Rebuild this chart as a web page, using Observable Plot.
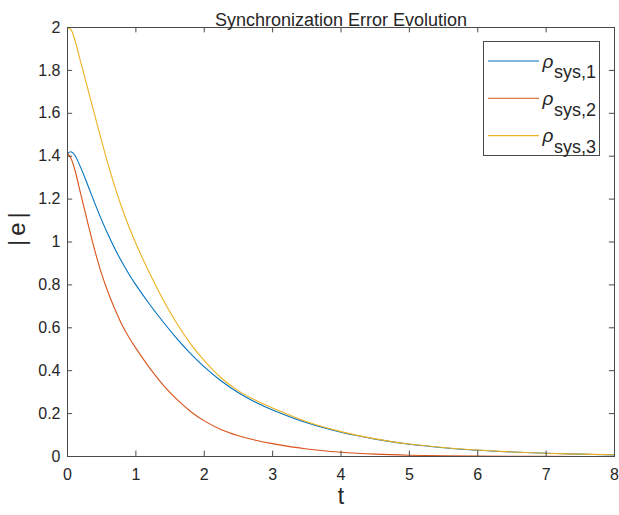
<!DOCTYPE html>
<html>
<head>
<meta charset="utf-8">
<script src="https://cdn.jsdelivr.net/npm/d3@7"></script>
<script src="https://cdn.jsdelivr.net/npm/@observablehq/plot@0.6"></script>
<style>
  html, body { margin: 0; padding: 0; background: #ffffff; }
  svg { display: block; }
</style>
</head>
<body>
<div id="chart"></div>
<script>
// ---- data ----
const tValues = [0, 0.05, 0.1, 0.2, 0.3, 0.4, 0.5, 0.6, 0.7, 0.8, 0.9, 1.0, 1.2, 1.4, 1.6, 1.8, 2.0, 2.25, 2.5, 2.75, 3.0, 3.5, 4, 4.5, 5, 5.5, 6, 6.5, 7, 7.5, 8];
const rhoSys1 = [1.414, 1.421, 1.408, 1.342, 1.262, 1.18, 1.102, 1.03, 0.964, 0.904, 0.85, 0.8, 0.71, 0.627, 0.55, 0.48, 0.418, 0.352, 0.297, 0.253, 0.217, 0.157, 0.113, 0.081, 0.057, 0.041, 0.029, 0.021, 0.015, 0.011, 0.0075];
const rhoSys2 = [1.414, 1.39, 1.345, 1.215, 1.085, 0.96, 0.85, 0.76, 0.682, 0.612, 0.555, 0.505, 0.413, 0.333, 0.266, 0.21, 0.166, 0.125, 0.097, 0.076, 0.06, 0.035, 0.02, 0.011, 0.006, 0.0035, 0.002, 0.001, 0.0006, 0.0003, 0.0002];
const rhoSys3 = [2.0, 1.99, 1.95, 1.83, 1.71, 1.59, 1.47, 1.355, 1.25, 1.155, 1.07, 0.993, 0.855, 0.73, 0.62, 0.525, 0.447, 0.366, 0.306, 0.262, 0.226, 0.162, 0.116, 0.082, 0.058, 0.042, 0.03, 0.021, 0.015, 0.011, 0.008];
const seriesSubs = ["sys,1", "sys,2", "sys,3"];
const seriesColors = ["#0072BD", "#D95319", "#EDB120"];
const xTicks = [0, 1, 2, 3, 4, 5, 6, 7, 8];
const yTicks = [0, 0.2, 0.4, 0.6, 0.8, 1, 1.2, 1.4, 1.6, 1.8, 2];
const titleText = "Synchronization Error Evolution";
const xLabel = "t";
const yLabel = "|e|";

// ---- long-form table ----
const seriesValues = [rhoSys1, rhoSys2, rhoSys3];
const rows = [];
seriesValues.forEach((vals, i) => {
  vals.forEach((v, j) => rows.push({t: tValues[j], v, s: seriesSubs[i]}));
});

const axisColor = "#4a4a4a";
const textColor = "#262626";
const font = "'Liberation Sans', Arial, Helvetica, sans-serif";

const chart = Plot.plot({
  width: 619,
  height: 515,
  marginLeft: 67,
  marginRight: 5,
  marginTop: 27,
  marginBottom: 59,
  style: {fontFamily: font, color: textColor, background: "#ffffff"},
  x: {domain: [0, 8]},
  y: {domain: [0, 2]},
  color: {domain: seriesSubs, range: seriesColors},
  marks: [
    Plot.line(rows, {x: "t", y: "v", stroke: "s", curve: "catmull-rom", strokeWidth: 1.1}),
    // inward ticks
    Plot.ruleX(xTicks, {x: d => d, y1: 0, y2: 0.025, stroke: axisColor}),
    Plot.ruleX(xTicks, {x: d => d, y1: 2, y2: 1.975, stroke: axisColor}),
    Plot.ruleY(yTicks, {y: d => d, x1: 0, x2: 0.075, stroke: axisColor}),
    Plot.ruleY(yTicks, {y: d => d, x1: 8, x2: 7.925, stroke: axisColor}),
    Plot.frame({stroke: axisColor, strokeWidth: 1}),
    Plot.axisX(xTicks, {tickSize: 0, tickPadding: 12, fontSize: 16, label: null, tickFormat: d => String(d), fill: textColor}),
    Plot.axisY(yTicks, {tickSize: 0, tickPadding: 7, fontSize: 16, label: null, tickFormat: d => String(d), fill: textColor}),
    Plot.text([titleText], {frameAnchor: "top", dy: -14, fontSize: 18, fill: textColor, text: d => d}),
    Plot.text([xLabel], {frameAnchor: "bottom", dy: 47, fontSize: 23, fill: textColor, text: d => d}),
    Plot.text([yLabel], {frameAnchor: "left", dx: -50, dy: 4, rotate: -90, fontSize: 24, fill: textColor, text: d => d})
  ]
});

document.getElementById("chart").appendChild(chart);

const svg = d3.select(chart);
// widen the |e| label spacing like the TeX rendering
svg.selectAll("text").filter(function () { return this.textContent === yLabel; })
  .style("letter-spacing", "4px");

// ---- legend (inside top-right of plot area) ----
const lg = svg.append("g").attr("text-anchor", "start");
const bx = 483.5, by = 41.5, bw = 116, bh = 114;
lg.append("rect").attr("x", bx).attr("y", by).attr("width", bw).attr("height", bh)
  .attr("fill", "#ffffff").attr("stroke", axisColor).attr("stroke-width", 1);
seriesSubs.forEach((sub, i) => {
  const ly = 61 + i * 37.3;
  lg.append("line").attr("x1", 488).attr("x2", 539).attr("y1", ly).attr("y2", ly)
    .attr("stroke", seriesColors[i]).attr("stroke-width", 1.1);
  lg.append("text").attr("x", 542.5).attr("y", ly + 6.5).attr("text-anchor", "start")
    .attr("font-family", font).attr("font-style", "italic").attr("font-size", 19)
    .attr("fill", textColor).text("ρ");
  lg.append("text").attr("x", 554).attr("y", ly + 17.3).attr("text-anchor", "start")
    .attr("font-family", font).attr("font-size", 18)
    .attr("fill", textColor).text(sub);
});
</script>
</body>
</html>
